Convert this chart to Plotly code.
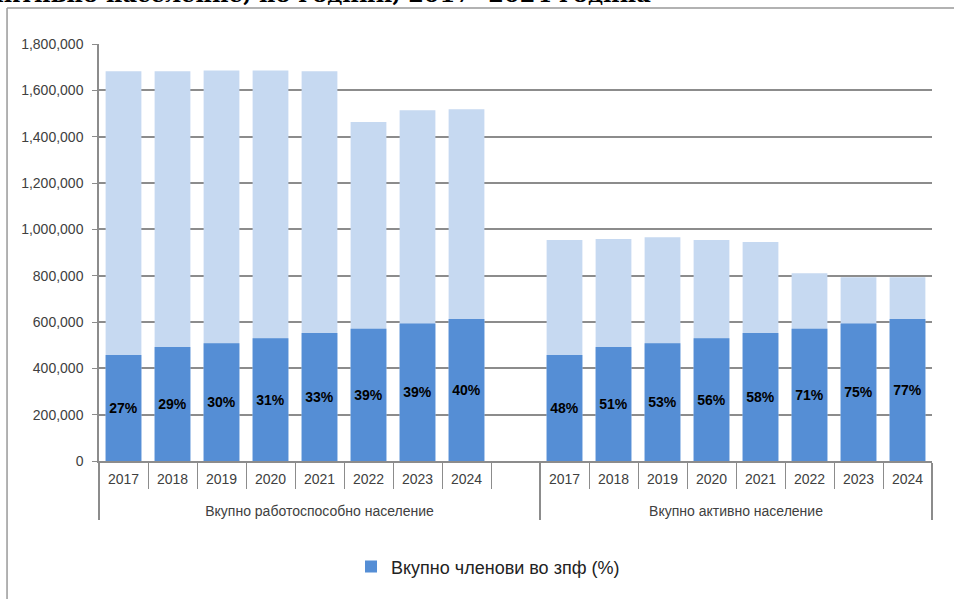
import plotly.graph_objects as go

years = ['2017', '2018', '2019', '2020', '2021', '2022', '2023', '2024']
groups = ['Вкупно работоспособно население', 'Вкупно активно население']

# members of the pension fund (dark bars), same in both groups
members = [457500, 492000, 508000, 530000, 552500, 571000, 594000, 613000]
# totals (light bars)
working_age = [1682000, 1682000, 1686000, 1686000, 1682000, 1463000, 1514000, 1518000]
active = [954000, 958000, 965500, 954000, 945000, 810000, 793000, 793000]
# share labels
pct_working = [27, 29, 30, 31, 33, 39, 39, 40]
pct_active = [48, 51, 53, 56, 58, 71, 75, 77]

title_line = 'активно население, по години, 2017- 2024 година'
legend_name = 'Вкупно членови во зпф (%)'

# left group gets an extra empty slot, as in the original
x_outer = ['<br>' + groups[0]] * 9 + ['<br>' + groups[1]] * 8
x_inner = years + [' '] + years
totals = working_age + [None] + active
dark = members + [None] + members
labels = [f'{p}%' for p in pct_working] + [''] + [f'{p}%' for p in pct_active]

light_col = '#C6D9F1'
dark_col = '#558ED5'
grid_col = '#8C8C8C'
txt_col = '#404040'

fig = go.Figure()
fig.add_trace(go.Bar(x=[x_outer, x_inner], y=totals, marker=dict(color=light_col, line=dict(width=0)),
                     showlegend=False, hoverinfo='skip'))
fig.add_trace(go.Bar(x=[x_outer, x_inner], y=dark, name=legend_name,
                     marker=dict(color=dark_col, line=dict(width=0)),
                     text=labels, textposition='inside', insidetextanchor='middle',
                     textfont=dict(family='Liberation Sans', size=14, color='black', weight='bold'),
                     textangle=0))

fig.update_layout(
    width=954, height=599,
    margin=dict(l=99, r=22, t=44, b=138),
    barmode='overlay', bargap=0.27,
    plot_bgcolor='white', paper_bgcolor='white',
    font=dict(family='Liberation Sans', size=14, color=txt_col),
    showlegend=True,
    legend=dict(orientation='h', x=0.467, xanchor='center', y=-0.254, yanchor='middle',
                font=dict(size=18, color='#222'), itemwidth=30),
)
fig.update_yaxes(range=[0, 1800000], dtick=200000, tickformat=',d',
                 showline=True, linecolor=grid_col, linewidth=1.5,
                 ticks='outside', ticklen=5, tickcolor=grid_col, ticklabelstandoff=6,
                 showgrid=True, gridcolor=grid_col, gridwidth=1.5, zeroline=False,
                 tickfont=dict(size=14, color=txt_col))
fig.update_xaxes(type='multicategory', showline=True, linecolor=grid_col, linewidth=1.5,
                 ticks='outside', tickson='boundaries', ticklen=26, tickcolor=grid_col,
                 ticklabelstandoff=4,
                 showdividers=True, dividercolor=grid_col, dividerwidth=1.5,
                 tickfont=dict(size=14, color=txt_col))

# outer frame of the original chart object
fig.add_shape(type='line', xref='paper', yref='paper', x0=-0.1104, x1=1.1, y0=1.0863, y1=1.0863,
              line=dict(color='#999999', width=1.5))
fig.add_shape(type='line', xref='paper', yref='paper', x0=-0.1104, x1=-0.1104, y0=1.0863, y1=-0.4,
              line=dict(color='#999999', width=1.5))

# cropped document title above the chart
fig.add_annotation(text=title_line, xref='paper', yref='paper', x=0.665, y=1.084,
                   xanchor='right', yanchor='bottom', showarrow=False,
                   font=dict(family='DejaVu Serif', size=22.6, color='black', weight='bold'))

# drop the default body margin so the figure sits at the window corner
fig.write_html('out.html', config={'displayModeBar': False},
               post_script="document.body.style.margin='0';")
